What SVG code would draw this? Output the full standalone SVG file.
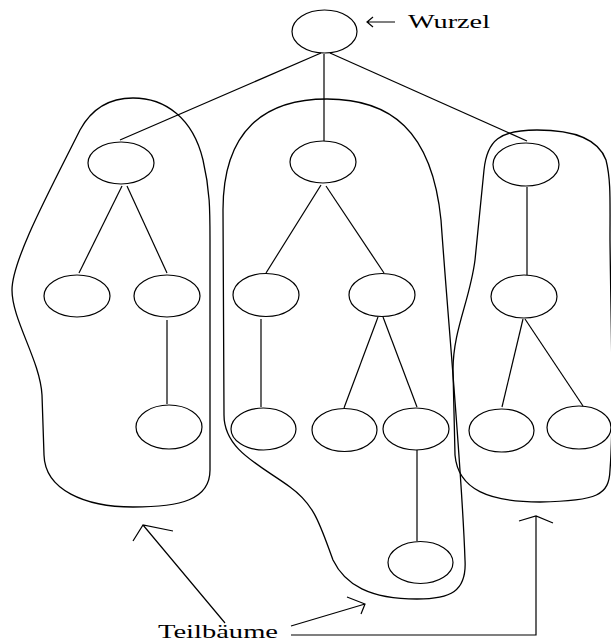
<svg xmlns="http://www.w3.org/2000/svg" width="611" height="641" viewBox="0 0 611 641">
<style>
.n{fill:none;stroke:#000;stroke-width:1.2}
.c{fill:none;stroke:#000;stroke-width:1.2}
.h{fill:none;stroke:#000;stroke-width:1.3}
.t{font-family:"Liberation Serif","DejaVu Serif",serif;font-size:18px;fill:#000}
</style>
<rect width="611" height="641" fill="#fff"/>
<g id="hulls">
<path class="h" d="M133 98 C165 98 193 118 203 160 C210 190 210 210 210 240 L210 470 C210 500 180 507 133 507 C85 507 45 490 44 455 L42 395 C40 360 12 320 12 290 C12 260 50 190 80 130 C92 108 110 98 133 98 Z"/>
<path class="h" d="M327 99 C390 99 432 130 441 220 C448 320 462 470 465 560 C467 592 450 599 417 599 C370 599 345 585 333 560 C320 525 315 505 290 487 C260 465 224 450 224 415 L223 210 C223 130 265 99 327 99 Z"/>
<path class="h" d="M537 130 C570 130 598 138 606 160 C611 180 610 200 610 240 C611 330 614 420 610 470 C609 495 598 501 540 502 C490 502 458 490 455 455 L453 370 C453 330 470 300 475 260 L484 170 C487 140 500 130 537 130 Z"/>
</g>
<g id="connectors">
<path class="c" d="M321 53 L120 140"/>
<path class="c" d="M324 54 L324 141"/>
<path class="c" d="M330 53 L527 141"/>
<path class="c" d="M122 186 L79 273"/>
<path class="c" d="M127 186 L167 273"/>
<path class="c" d="M167 320 L167 404"/>
<path class="c" d="M321 185 L266 273"/>
<path class="c" d="M326 186 L384 273"/>
<path class="c" d="M261 319 L261 407"/>
<path class="c" d="M378 317 L344 408"/>
<path class="c" d="M383 317 L417 407"/>
<path class="c" d="M417 450 L417 541"/>
<path class="c" d="M527 187 L527 275"/>
<path class="c" d="M523 319 L502 407"/>
<path class="c" d="M525 319 L583 406"/>
</g>
<g id="root"><ellipse class="n" cx="324.5" cy="31.5" rx="32.5" ry="21.5"/></g>
<g id="l1"><ellipse class="n" cx="121" cy="163" rx="33" ry="21"/></g>
<g id="l2a"><ellipse class="n" cx="77" cy="296" rx="33" ry="21"/></g>
<g id="l2b"><ellipse class="n" cx="167" cy="296" rx="33" ry="21"/></g>
<g id="l3"><ellipse class="n" cx="169" cy="427" rx="33" ry="22"/></g>
<g id="m1"><ellipse class="n" cx="323" cy="162" rx="33" ry="21"/></g>
<g id="m2a"><ellipse class="n" cx="266" cy="295" rx="33" ry="21.5"/></g>
<g id="m2b"><ellipse class="n" cx="382" cy="295" rx="33" ry="21.5"/></g>
<g id="m3a"><ellipse class="n" cx="263.5" cy="429" rx="32.5" ry="21"/></g>
<g id="m3b"><ellipse class="n" cx="344.5" cy="430" rx="32.5" ry="21.5"/></g>
<g id="m3c"><ellipse class="n" cx="416" cy="429" rx="33" ry="21"/></g>
<g id="m4"><ellipse class="n" cx="420.5" cy="562.5" rx="32.5" ry="21"/></g>
<g id="r1"><ellipse class="n" cx="526" cy="164.5" rx="33" ry="21.5"/></g>
<g id="r2"><ellipse class="n" cx="524" cy="296.5" rx="33" ry="21.5"/></g>
<g id="r3a"><ellipse class="n" cx="501.5" cy="430.5" rx="32.5" ry="21.5"/></g>
<g id="r3b"><ellipse class="n" cx="579" cy="427.5" rx="32" ry="21.5"/></g>
<g id="labels">
<path class="c" d="M395 22 L367 22 M373 17 L367 22 L373 27"/>
<text class="t" x="408" y="28" textLength="82" lengthAdjust="spacingAndGlyphs">Wurzel</text>
<text class="t" x="158" y="638" textLength="120" lengthAdjust="spacingAndGlyphs">Teilbäume</text>
<path class="c" d="M225 623 L143 525 M133 541 L143 525 L173 531"/>
<path class="c" d="M291 626 L365 604 M347 597 L365 604 L361 614"/>
<path class="c" d="M291 635 L536 635 L536 516 M519 521 L536 516 L553 523"/>
</g>
</svg>
